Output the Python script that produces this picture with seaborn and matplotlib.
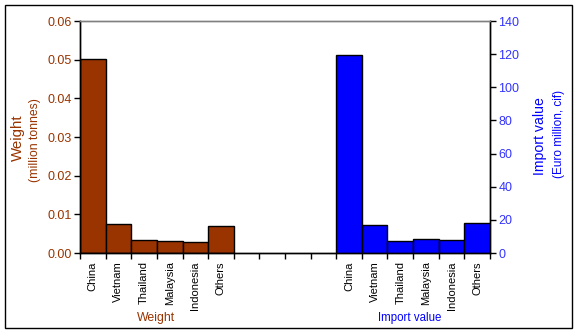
import matplotlib
matplotlib.use("Agg")
import matplotlib.pyplot as plt
import seaborn as sns
import pandas as pd
from matplotlib.patches import Rectangle
from matplotlib.ticker import FixedLocator, FuncFormatter

countries = ["China", "Vietnam", "Thailand", "Malaysia", "Indonesia", "Others"]
weight = [0.0501, 0.0074, 0.0033, 0.0030, 0.0028, 0.0069]
import_value = [119.5, 16.9, 7.2, 8.3, 7.7, 18.1]
group_labels = ["Weight", "Import value"]
n_gap = 4

BROWN = "#993300"
BLUE = "#0000FF"
TICKBLUE = "#3333FF"

sns.set_theme(style="white")
plt.rcParams["font.family"] = ["Liberation Sans", "DejaVu Sans"]

w_keys = ["W_" + c for c in countries]
gap_keys = ["G%d" % i for i in range(n_gap)]
i_keys = ["I_" + c for c in countries]
order = w_keys + gap_keys + i_keys
tick_text = countries + [""] * n_gap + countries

df_w = pd.DataFrame({"key": w_keys, "val": weight})
df_i = pd.DataFrame({"key": i_keys, "val": import_value})

fig = plt.figure(figsize=(5.77, 3.32), dpi=100)
fig.patch.set_facecolor("white")
ax = fig.add_axes([80 / 577, 1 - 253 / 332, 410 / 577, 232 / 332])
ax2 = ax.twinx()

sns.barplot(data=df_w, x="key", y="val", order=order, color=BROWN, saturation=1,
            width=1.0, edgecolor="black", linewidth=1.0, ax=ax)
sns.barplot(data=df_i, x="key", y="val", order=order, color=BLUE, saturation=1,
            width=1.0, edgecolor="black", linewidth=1.0, ax=ax2)

n = len(order)
for a in (ax, ax2):
    a.set_xlim(-0.5, n - 0.5)
    a.set_xlabel("")
    a.set_ylabel("")
    a.grid(False)
    a.set_facecolor("none")

ax.set_ylim(0, 0.06)
ax.set_yticks([0, 0.01, 0.02, 0.03, 0.04, 0.05, 0.06])
ax.yaxis.set_major_formatter(FuncFormatter(lambda v, p: "%.2f" % v))
ax2.set_ylim(0, 140)
ax2.set_yticks(range(0, 141, 20))

# x ticks: boundaries as tick marks, centers as labels
ax.xaxis.set_major_locator(FixedLocator([i - 0.5 for i in range(n + 1)]))
ax.set_xticklabels([""] * (n + 1))
ax.xaxis.set_minor_locator(FixedLocator(list(range(n))))
ax.set_xticklabels(tick_text, minor=True, rotation=90, fontsize=8, color="black")
ax.tick_params(axis="x", which="major", direction="out", length=4, width=1, color="black", bottom=True)
ax.tick_params(axis="x", which="minor", length=0, pad=6)
ax2.tick_params(axis="x", which="both", bottom=False, labelbottom=False)

ax.tick_params(axis="y", direction="out", length=4, width=1, color="black",
               labelsize=9, labelcolor=BROWN, left=True, pad=2)
ax2.tick_params(axis="y", direction="out", length=4, width=1, color="black",
                labelsize=9, labelcolor=TICKBLUE, right=True, pad=2)

for a in (ax, ax2):
    for s in ("left", "right", "bottom"):
        a.spines[s].set_color("black")
        a.spines[s].set_linewidth(1)
        a.spines[s].set_visible(True)
    a.spines["top"].set_color("#808080")
    a.spines["top"].set_linewidth(1)

# axis titles
fig.text(18 / 577, 1 - 138 / 332, "Weight", rotation=90, ha="center", va="center",
         color=BROWN, fontsize=10.8)
fig.text(35 / 577, 1 - 140 / 332, "(million tonnes)", rotation=90, ha="center", va="center",
         color=BROWN, fontsize=8.8)
fig.text(540 / 577, 1 - 136 / 332, "Import value", rotation=90, ha="center", va="center",
         color=BLUE, fontsize=10.2)
fig.text(559 / 577, 1 - 134 / 332, "(Euro million, cif)", rotation=90, ha="center", va="center",
         color=BLUE, fontsize=8.5)

# group labels under categories
fig.text(156 / 577, 1 - 318 / 332, group_labels[0], ha="center", va="center",
         color=BROWN, fontsize=8.8)
fig.text(410 / 577, 1 - 318 / 332, group_labels[1], ha="center", va="center",
         color=BLUE, fontsize=8.3)

# figure border
fig.patches.append(Rectangle((4.5 / 577, 1 - 327.5 / 332), 567 / 577, 323 / 332,
                             transform=fig.transFigure, fill=False, edgecolor="black",
                             linewidth=1, zorder=10))

fig.savefig("out.png", dpi=100, facecolor="white")
